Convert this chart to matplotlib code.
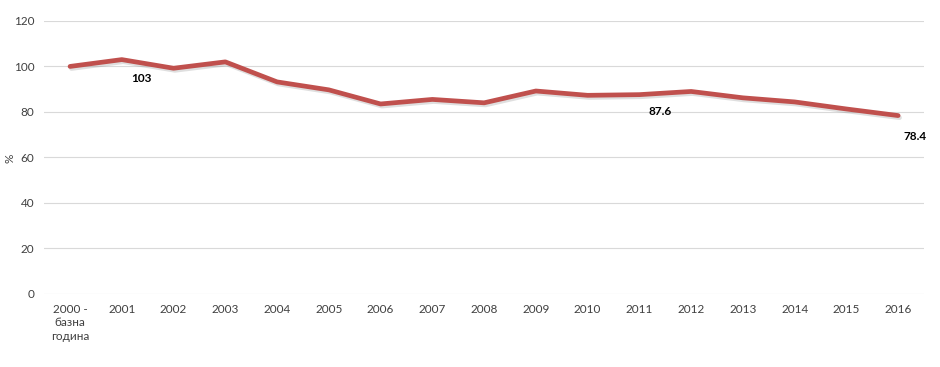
import matplotlib
matplotlib.use("Agg")
import matplotlib.pyplot as plt
import matplotlib.patheffects as pe

# Data
years = ["2000 -\nбазна\nгодина", "2001", "2002", "2003", "2004", "2005", "2006", "2007",
         "2008", "2009", "2010", "2011", "2012", "2013", "2014", "2015", "2016"]
values = [100, 103, 99.2, 102, 93.2, 89.7, 83.5, 85.5, 84, 89.2, 87.3, 87.6, 89,
          86.2, 84.4, 81.3, 78.4]
labelled = {1: "103", 11: "87.6", 16: "78.4"}
label_offsets = {1: (20, -19), 11: (21, -17), 16: (17, -21)}

plt.rcParams['font.family'] = ['Lato', 'Open Sans', 'DejaVu Sans']

fig = plt.figure(figsize=(9.4, 3.67), dpi=100)
ax = fig.add_axes([0.047, 0.199, 0.936, 0.744])

x = list(range(len(years)))
ax.plot(x, values, color="#C0504D", linewidth=3.4, solid_capstyle="round",
        path_effects=[pe.SimpleLineShadow(offset=(1, -1.5), shadow_color="gray", alpha=0.25),
                      pe.Normal()], zorder=3)

for i, txt in labelled.items():
    ax.annotate(txt, (x[i], values[i]), xytext=label_offsets[i], textcoords="offset pixels",
                ha="center", va="center", fontsize=8.5, fontweight="bold", color="black")

ax.set_xlim(-0.5, len(years) - 0.5)
ax.set_ylim(0, 120)
ax.set_yticks(range(0, 121, 20))
ax.set_xticks(x)
ax.set_xticklabels(years, fontsize=8.5, color="#404040", linespacing=1.3)
ax.tick_params(axis="y", labelsize=8.5, labelcolor="#404040", length=0, pad=7)
ax.tick_params(axis="x", length=0, pad=7)
ax.grid(axis="y", color="#D9D9D9", linewidth=0.8)
ax.set_axisbelow(True)
for s in ax.spines.values():
    s.set_visible(False)
fig.text(10 / 940, 1 - 158 / 367, "%", rotation=90, fontsize=8.5, color="#404040",
         ha="center", va="center")

fig.savefig("out.png", dpi=100)
